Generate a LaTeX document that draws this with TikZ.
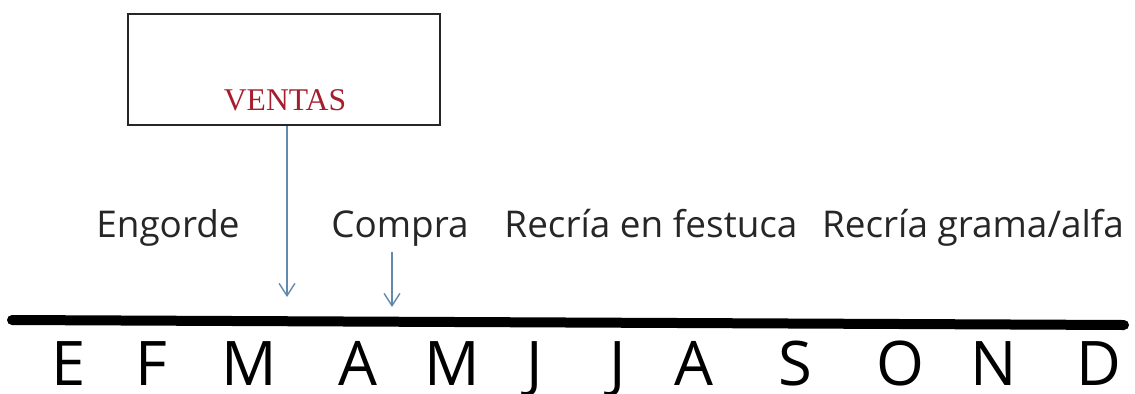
\documentclass[tikz,border=0pt]{standalone}
\usepackage{fontspec}
\setmainfont{Open Sans}
\newfontfamily\ventasfont{Liberation Serif}
\usetikzlibrary{arrows.meta}
\definecolor{flecha}{RGB}{98,138,172}
\definecolor{rojo}{RGB}{165,30,45}
\begin{document}
\begin{tikzpicture}[x=0.02cm,y=-0.02cm,
			caja/.style={draw=black!85, line width=0.9pt, minimum width=312*0.02cm, minimum height=111*0.02cm, inner sep=0pt},
			etapa/.style={anchor=base, font=\fontsize{21}{24}\selectfont, text=black!85},
			mes/.style={anchor=base, inner sep=0pt, font=\fontsize{35}{38}\selectfont},
			flechita/.style={draw=flecha, line width=0.8pt, -{Straight Barb[length=7pt,width=9pt]}}
			]
			\useasboundingbox (0,0) rectangle (1135,393);
			\node[caja] (box) at (284,69.5) {};
			\node[anchor=base, text=rojo, font=\ventasfont\fontsize{18}{21}\selectfont] (ventas) at (285,110) {VENTAS};
			\draw[line width=10*0.02cm, line cap=round] (12,320) coordinate (l0) -- (1124,325) coordinate (l1);
			\node[etapa] (engorde) at (168,237) {Engorde};
			\node[etapa] (compra) at (400,237) {Compra};
			\node[etapa] (festuca) at (651,237) {Recría en festuca};
			\node[etapa] (grama) at (973,237) {Recría grama/alfa};
			\coordinate (v1) at (box.south -| 287,0);
			\coordinate (v2) at (287,297);
			\coordinate (c1) at (392,252);
			\coordinate (c2) at (392,307);
			\draw[flechita] (v1) -- (v2);
			\draw[flechita] (c1) -- (c2);
			\foreach \m/\x [count=\i] in {E/69,F/151,M/249,A/358,M/452,J/535,J/618,A/694,S/795,O/900,N/994,D/1099}
			\node[mes] (m\i) at (\x,385) {\m};
			\end{tikzpicture}
\end{document}
